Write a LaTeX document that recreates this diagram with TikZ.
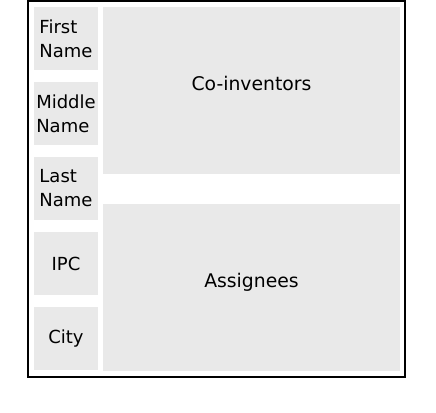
\documentclass[tikz,border=0pt]{standalone}
\usepackage{fontspec}
\setsansfont{DejaVu Sans}
\definecolor{field}{RGB}{233,233,233}

\begin{document}
\begin{tikzpicture}[x=1pt, y=-1pt]
            \tikzstyle{every node} = [fill=field, inner sep=0pt, align=left,
                font=\sffamily\fontsize{18.8}{24}\selectfont]
            \tikzstyle{small field} = [minimum width=64pt, minimum height=63pt,
                font=\sffamily\fontsize{18}{24}\selectfont]
            \tikzstyle{large field} = [minimum width=297pt, minimum height=167pt,
                text depth=15pt]
            \useasboundingbox (0, 0) rectangle (436, 412);
            \draw[line width=1.3pt] (28, 1) rectangle (405, 377);

            \node[small field] (first) at (66, 38.5) {First\\Name};
            \node[small field] (middle) at (66, 113.5) {Middle\\Name};
            \node[small field] (last) at (66, 188.5) {Last\\Name};
            \node[small field] (ipc) at (66, 263.5) {IPC};
            \node[small field] (city) at (66, 338.5) {City};

            \node[large field] (coinventors) at (251.5, 90.5) {Co-inventors};
            \node[large field] (assignees) at (251.5, 287.5) {Assignees};
        \end{tikzpicture}
\end{document}
